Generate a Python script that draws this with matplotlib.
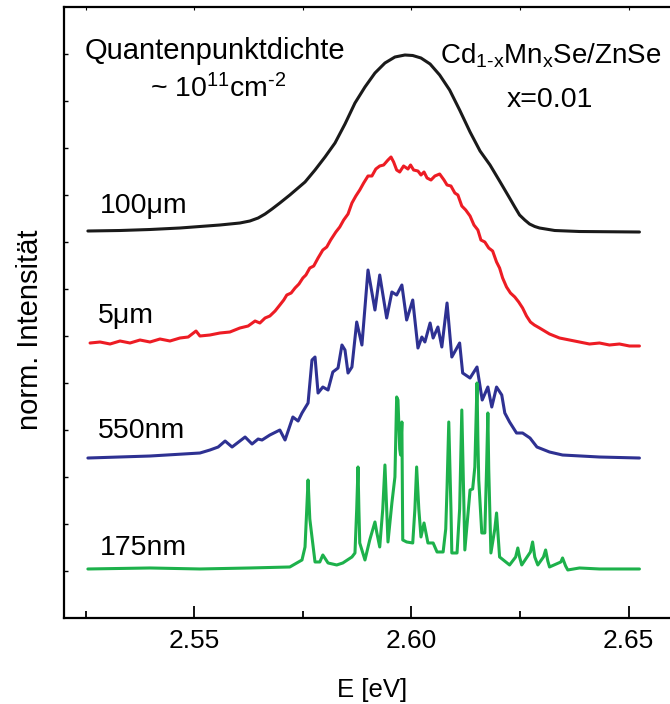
import numpy as np
import matplotlib
matplotlib.use("Agg")
import matplotlib.pyplot as plt

plt.rcParams['font.family'] = ['Liberation Sans', 'DejaVu Sans']
plt.rcParams['mathtext.fontset'] = 'custom'
plt.rcParams['mathtext.rm'] = 'Liberation Sans'
plt.rcParams['mathtext.it'] = 'Liberation Sans'
plt.rcParams['mathtext.default'] = 'regular'

# spectra: photon energy [eV] and intensity (arb. units)
e_100um = [2.5255, 2.5329, 2.5398, 2.5467, 2.5513, 2.5559, 2.5605, 2.5628, 2.5647,
           2.5663, 2.5679, 2.5697, 2.5720, 2.5755, 2.5778, 2.5801, 2.5824, 2.5847,
           2.5870, 2.5893, 2.5916, 2.5939, 2.5962, 2.5985, 2.6003, 2.6022, 2.6043,
           2.6065, 2.6088, 2.6111, 2.6135, 2.6158, 2.6181, 2.6203, 2.6226, 2.6238,
           2.6249, 2.6261, 2.6272, 2.6284, 2.6295, 2.6330, 2.6387, 2.6525]
i_100um = [0, 0.5, 1.5, 3, 4.5, 6, 8, 10, 13,
           17, 22, 28, 36, 49, 61, 74, 88, 107,
           128, 144, 158, 168, 174, 176, 175.5, 173, 167,
           156, 141, 121, 99, 80, 66, 50, 33, 24,
           16, 11, 7, 4.5, 3, 0.5, -0.5, -1]

e_5um = [2.5260, 2.5283, 2.5306, 2.5329, 2.5352, 2.5375, 2.5398, 2.5421, 2.5444,
         2.5467, 2.5486, 2.5495, 2.5504, 2.5513, 2.5536, 2.5559, 2.5582, 2.5605,
         2.5624, 2.5640, 2.5651, 2.5663, 2.5674, 2.5686, 2.5697, 2.5706, 2.5713,
         2.5723, 2.5732, 2.5741, 2.5750, 2.5757, 2.5766, 2.5775, 2.5785, 2.5796,
         2.5805, 2.5814, 2.5826, 2.5835, 2.5844, 2.5854, 2.5863, 2.5872, 2.5881,
         2.5890, 2.5900, 2.5909, 2.5918, 2.5927, 2.5936, 2.5946, 2.5953, 2.5959,
         2.5966, 2.5973, 2.5982, 2.5992, 2.5998, 2.6005, 2.6015, 2.6022, 2.6029,
         2.6036, 2.6045, 2.6054, 2.6065, 2.6075, 2.6082, 2.6091, 2.6100, 2.6107,
         2.6116, 2.6125, 2.6135, 2.6144, 2.6153, 2.6160, 2.6169, 2.6178, 2.6187,
         2.6196, 2.6203, 2.6210, 2.6219, 2.6228, 2.6238, 2.6247, 2.6256, 2.6265,
         2.6274, 2.6283, 2.6295, 2.6318, 2.6341, 2.6364, 2.6387, 2.6410, 2.6433,
         2.6456, 2.6479, 2.6502, 2.6525]
i_5um = [0, 1, -1, 2, 0, 3, 1, 4, 2,
         5, 6, 9, 12, 7, 8, 10, 11, 15,
         17, 22, 20, 25, 27, 32, 38, 43, 48,
         50, 55, 59, 65, 68, 75, 77, 85, 93,
         96, 103, 111, 116, 123, 129, 140, 147, 153,
         160, 167, 167, 174, 177, 178, 183, 186, 181,
         173, 171, 177, 174, 178, 173, 172, 168, 171,
         165, 163, 167, 169, 163, 158, 157, 150, 148,
         137, 133, 127, 118, 113, 103, 101, 95, 92,
         81, 75, 65, 56, 50, 46, 41, 35, 27,
         21, 18, 15, 9, 5, 3, 1, -1, 0,
         -2, -1, -3, -3]

e_550nm = [2.5255, 2.5398, 2.5513, 2.5536, 2.5555, 2.5571, 2.5587, 2.5605, 2.5617,
           2.5633, 2.5647, 2.5656, 2.5674, 2.5697, 2.5709, 2.5727, 2.5739, 2.5748,
           2.5762, 2.5771, 2.5778, 2.5785, 2.5796, 2.5808, 2.5819, 2.5831, 2.5840,
           2.5847, 2.5854, 2.5863, 2.5874, 2.5886, 2.5900, 2.5916, 2.5927, 2.5943,
           2.5955, 2.5966, 2.5978, 2.5989, 2.6003, 2.6015, 2.6024, 2.6031, 2.6043,
           2.6050, 2.6061, 2.6070, 2.6082, 2.6093, 2.6111, 2.6118, 2.6135, 2.6151,
           2.6163, 2.6176, 2.6185, 2.6196, 2.6208, 2.6215, 2.6226, 2.6242, 2.6256,
           2.6273, 2.6289, 2.6318, 2.6348, 2.6433, 2.6525]
i_550nm = [0, 2, 5, 8, 11, 17, 11, 17, 21,
           14, 19, 18, 23, 28, 18, 41, 37, 45,
           55, 98, 101, 65, 71, 68, 86, 90, 113,
           108, 85, 91, 136, 113, 188, 148, 183, 140,
           166, 163, 173, 138, 158, 110, 121, 116, 135,
           120, 131, 111, 155, 101, 115, 85, 80, 91,
           58, 71, 51, 71, 63, 45, 36, 25, 25,
           20, 11, 6, 3, 1, 0]

e_175nm = [2.5255, 2.5398, 2.5513, 2.5628, 2.5720, 2.5748, 2.5755, 2.5759, 2.5762,
           2.5766, 2.5771, 2.5778, 2.5789, 2.5796, 2.5808, 2.5828, 2.5842, 2.5863,
           2.5870, 2.5874, 2.5877, 2.5879, 2.5881, 2.5893, 2.5904, 2.5916, 2.5920,
           2.5927, 2.5934, 2.5939, 2.5943, 2.5946, 2.5955, 2.5962, 2.5966, 2.5969,
           2.5973, 2.5975, 2.5978, 2.5980, 2.5989, 2.6003, 2.6008, 2.6012, 2.6017,
           2.6022, 2.6029, 2.6038, 2.6050, 2.6059, 2.6073, 2.6079, 2.6082, 2.6086,
           2.6091, 2.6093, 2.6105, 2.6111, 2.6116, 2.6121, 2.6123, 2.6135, 2.6141,
           2.6146, 2.6151, 2.6153, 2.6155, 2.6162, 2.6169, 2.6173, 2.6176, 2.6178,
           2.6183, 2.6192, 2.6196, 2.6203, 2.6226, 2.6240, 2.6245, 2.6249, 2.6254,
           2.6274, 2.6279, 2.6284, 2.6291, 2.6304, 2.6309, 2.6314, 2.6318, 2.6344,
           2.6348, 2.6355, 2.6360, 2.6387, 2.6433, 2.6525]
i_175nm = [0, 1, 0, 1, 2, 9, 22, 60, 89,
           50, 32, 7, 7, 14, 6, 4, 6, 12,
           16, 60, 102, 60, 26, 9, 29, 47, 37,
           22, 60, 104, 60, 27, 66, 92, 172, 169,
           120, 114, 147, 29, 27, 26, 60, 102, 60,
           32, 46, 26, 26, 17, 17, 40, 81, 147,
           60, 16, 16, 60, 159, 60, 19, 79, 80,
           102, 186, 130, 89, 36, 36, 100, 156, 100,
           16, 40, 56, 12, 4, 12, 21, 12, 4,
           17, 27, 12, 4, 12, 19, 8, 2, 7,
           11, 3, -1, 1, 0, 0]

labels = ['100\u03bcm', '5\u03bcm', '550nm', '175nm']
colors = ['#1a1a1a', '#ed1c24', '#2e3192', '#1db14b']

spectra = [(e_100um, i_100um), (e_5um, i_5um), (e_550nm, i_550nm), (e_175nm, i_175nm)]
offsets = [8.234, 5.851, 3.404, 1.043]
scale = 1 / 47.0

W, H = 670, 704
fig = plt.figure(figsize=(W / 100, H / 100), dpi=100)
ax = fig.add_axes([64 / W, 1 - 618 / H, 608 / W, 611 / H])

for (e, inten), off, c in zip(spectra, offsets, colors):
    ax.plot(e, off + scale * np.array(inten), color=c, lw=2.2,
            solid_joinstyle='round', solid_capstyle='round')

ax.set_xlim(2.520, 2.660)
ax.set_ylim(0, 13)
ax.set_xticks([2.55, 2.60, 2.65])
ax.set_xticklabels(['2.55', '2.60', '2.65'])
ax.set_xticks([2.525, 2.575, 2.625], minor=True)
ax.set_yticks(np.arange(1, 13))
ax.set_yticklabels([])
ax.tick_params(axis='x', which='major', direction='in', length=9, width=1.3,
               labelsize=19, pad=8, top=True)
ax.tick_params(axis='x', which='minor', direction='in', length=5, width=1.3, top=True)
ax.tick_params(axis='y', direction='in', length=3, width=1.0)
for t in ax.xaxis.get_major_ticks() + ax.xaxis.get_minor_ticks():
    t.tick2line.set_markersize(2)
    t.tick2line.set_markeredgewidth(0.8)
for s in ['left', 'bottom', 'top', 'right']:
    ax.spines[s].set_linewidth(1.6)

def px(x, y):
    return x / W, 1 - y / H

fig.text(*px(85, 59), 'Quantenpunktdichte', fontsize=21, ha='left', va='baseline')
fig.text(*px(218, 97), r'~ 10$^{11}$cm$^{\text{-}2}$', fontsize=20.5, ha='center', va='baseline')
fig.text(*px(440, 63), r'Cd$_{1\text{-}x}$Mn$_x$Se/ZnSe', fontsize=20, ha='left', va='baseline')
fig.text(*px(507, 107), 'x=0.01', fontsize=20.5, ha='left', va='baseline')

label_pos = [(100, 213), (98, 323), (98, 438), (100, 555)]
for lab, (lx, ly) in zip(labels, label_pos):
    fig.text(*px(lx, ly), lab, fontsize=20.5, ha='left', va='baseline')

fig.text(*px(372, 697), 'E [eV]', fontsize=18.5, ha='center', va='baseline')
fig.text(*px(30, 330), 'norm. Intensit\u00e4t', fontsize=21, rotation=90,
         ha='center', va='center')

fig.savefig('out.png', dpi=100)
